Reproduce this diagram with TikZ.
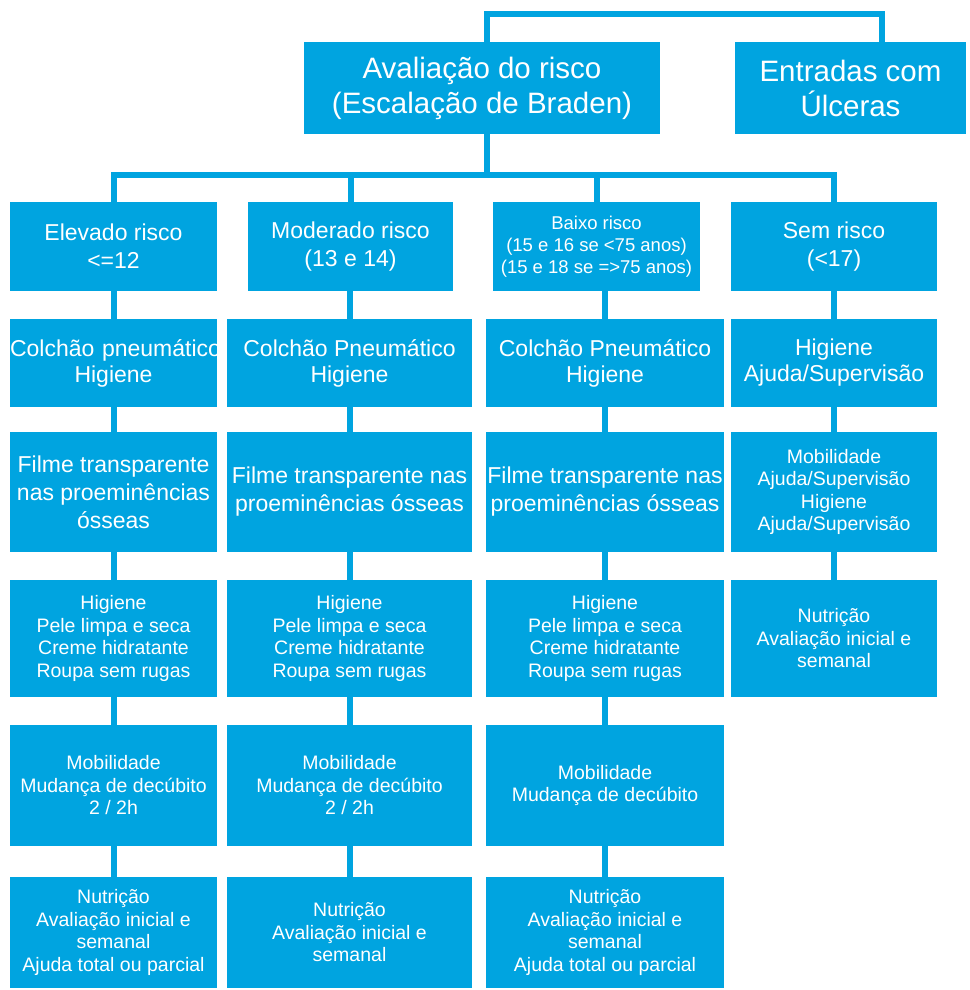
\documentclass[tikz,border=0pt]{standalone}
\usepackage{fontspec}
\setmainfont{Liberation Sans}
\usetikzlibrary{calc}
\definecolor{azul}{HTML}{00A4E0}

\begin{document}
\begin{tikzpicture}[x=1pt,y=-1pt,
 caixa/.style={fill=azul,text=white,align=center,inner sep=0pt,font=\fontsize{23}{28}\selectfont},
 grande/.style={caixa,font=\fontsize{29.5}{35}\selectfont},
 peq/.style={caixa,font=\fontsize{19.5}{22.5}\selectfont},
 liga/.style={draw=azul,line width=6pt}]
 \useasboundingbox (0,0) rectangle (969,990);
 % topo
 \node[grande,minimum width=356pt,minimum height=92pt] (aval) at (482,88) {Avaliação do risco\\(Escalação de Braden)};
 \node[grande,minimum width=231pt,minimum height=92pt] (entr) at (850.5,88) {Entradas com\\Úlceras};
 % niveis de risco
 \node[caixa,minimum width=207pt,minimum height=89pt] (elev) at (113.5,246.5) {Elevado risco\\<=12};
 \node[caixa,minimum width=205pt,minimum height=89pt] (mod) at (350.5,246.5) {Moderado risco\\(13 e 14)};
 \node[peq,font=\fontsize{18.5}{22}\selectfont,minimum width=207pt,minimum height=89pt] (baixo) at (596.5,246.5) {Baixo risco\\(15 e 16 se <75 anos)\\(15 e 18 se =>75 anos)};
 \node[caixa,minimum width=206pt,minimum height=89pt] (sem) at (834,246.5) {Sem risco\\(<17)};
 % coluna 1
 \node[caixa,text width=207pt,minimum height=88pt,font=\fontsize{23}{26}\selectfont] (c1r3) at (113.5,363) {Colchão~pneumático\\Higiene};
 \node[caixa,minimum width=207pt,minimum height=120pt] (c1r4) at (113.5,492) {Filme transparente\\nas proeminências\\ósseas};
 \node[peq,minimum width=207pt,minimum height=117pt] (c1r5) at (113.5,638.5) {Higiene\\Pele limpa e seca\\Creme hidratante\\Roupa sem rugas};
 \node[peq,minimum width=207pt,minimum height=121pt] (c1r6) at (113.5,785.5) {Mobilidade\\Mudança de decúbito\\2 / 2h};
 \node[peq,minimum width=207pt,minimum height=111pt] (c1r7) at (113.5,932.5) {Nutrição\\Avaliação inicial e\\semanal\\Ajuda total ou parcial};
 % coluna 2
 \node[caixa,minimum width=245pt,minimum height=88pt,font=\fontsize{23}{26}\selectfont] (c2r3) at (349.5,363) {Colchão Pneumático\\Higiene};
 \node[caixa,minimum width=245pt,minimum height=120pt] (c2r4) at (349.5,492) {Filme transparente nas\\proeminências ósseas};
 \node[peq,minimum width=245pt,minimum height=117pt] (c2r5) at (349.5,638.5) {Higiene\\Pele limpa e seca\\Creme hidratante\\Roupa sem rugas};
 \node[peq,minimum width=245pt,minimum height=121pt] (c2r6) at (349.5,785.5) {Mobilidade\\Mudança de decúbito\\2 / 2h};
 \node[peq,minimum width=245pt,minimum height=111pt] (c2r7) at (349.5,932.5) {Nutrição\\Avaliação inicial e\\semanal};
 % coluna 3
 \node[caixa,minimum width=238pt,minimum height=88pt,font=\fontsize{23}{26}\selectfont] (c3r3) at (605,363) {Colchão Pneumático\\Higiene};
 \node[caixa,minimum width=238pt,minimum height=120pt] (c3r4) at (605,492) {Filme transparente nas\\proeminências ósseas};
 \node[peq,minimum width=238pt,minimum height=117pt] (c3r5) at (605,638.5) {Higiene\\Pele limpa e seca\\Creme hidratante\\Roupa sem rugas};
 \node[peq,minimum width=238pt,minimum height=121pt] (c3r6) at (605,785.5) {Mobilidade\\Mudança de decúbito};
 \node[peq,minimum width=238pt,minimum height=111pt] (c3r7) at (605,932.5) {Nutrição\\Avaliação inicial e\\semanal\\Ajuda total ou parcial};
 % coluna 4
 \node[caixa,minimum width=206pt,minimum height=88pt,font=\fontsize{23}{26}\selectfont] (c4r3) at (834,363) {Higiene\\Ajuda/Supervisão};
 \node[peq,minimum width=206pt,minimum height=120pt] (c4r4) at (834,492) {Mobilidade\\Ajuda/Supervisão\\Higiene\\Ajuda/Supervisão};
 \node[peq,minimum width=206pt,minimum height=117pt] (c4r5) at (834,638.5) {Nutrição\\Avaliação inicial e\\semanal};
 % ligacoes
 \draw[liga] ([xshift=5pt]aval.north) -- ([xshift=5pt]aval.north |- 0,14) -| ([xshift=31pt]entr.north);
 \foreach \n in {elev,mod,baixo,sem}
  \draw[liga] ([xshift=5pt]aval.south) -- ++(0,40.5) -| (\n.north);
 \foreach \a/\b in {elev/c1r3,c1r3/c1r4,c1r4/c1r5,c1r5/c1r6,c1r6/c1r7,
   mod/c2r3,c2r3/c2r4,c2r4/c2r5,c2r5/c2r6,c2r6/c2r7,
   baixo/c3r3,c3r3/c3r4,c3r4/c3r5,c3r5/c3r6,c3r6/c3r7,
   sem/c4r3,c4r3/c4r4,c4r4/c4r5}
  \draw[liga] (\b.north |- \a.south) -- (\b.north);
\end{tikzpicture}
\end{document}
